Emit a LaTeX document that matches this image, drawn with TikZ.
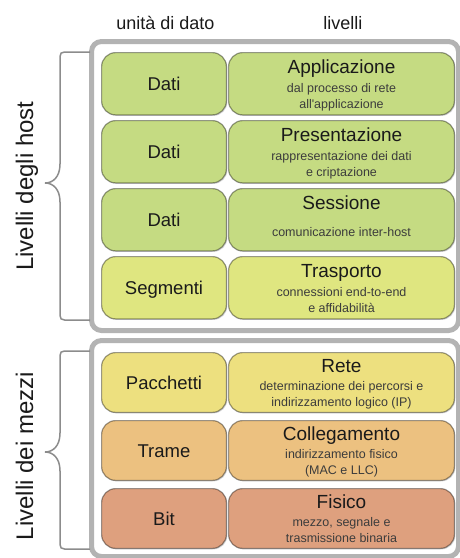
\documentclass[tikz,border=0pt]{standalone}
\usepackage{fontspec}
\setmainfont{Liberation Sans}
\usetikzlibrary{shadows}

\definecolor{framegray}{HTML}{B3B3B3}
\definecolor{bracegray}{HTML}{8C8C8C}
\definecolor{txt}{HTML}{1A1A1A}
\definecolor{cgreen}{HTML}{C5DB82}
\definecolor{cyelgreen}{HTML}{DFE680}
\definecolor{cyellow}{HTML}{EDE07F}
\definecolor{corange}{HTML}{ECC180}
\definecolor{csalmon}{HTML}{DEA07E}

\tikzset{
  groupframe/.style={draw=framegray, line width=5pt, rounded corners=10pt},
  bracket/.style={draw=bracegray, line width=1.5pt},
  layerbox/.style={draw=black, draw opacity=0.38, line width=1.2pt,
    rounded corners=14pt, inner sep=0pt,
    drop shadow={shadow xshift=1pt, shadow yshift=-1pt, opacity=0.3}},
  headtext/.style={font=\fontsize{18}{20}\selectfont, text=txt, inner sep=0pt},
  unittext/.style={font=\fontsize{18.5}{20}\selectfont, text=txt, inner sep=0pt},
  titletext/.style={font=\fontsize{19}{21}\selectfont, text=txt, inner sep=0pt},
  subtext/.style={font=\fontsize{12.5}{15.5}\selectfont, text=txt!85, inner sep=0pt, align=center},
  sidetext/.style={font=\fontsize{24}{26}\selectfont, text=txt, inner sep=0pt, rotate=90, anchor=base},
}

% #1 name, #2 centre y, #3 box height, #4 fill, #5 unit, #6 layer,
% #7 description, #8 offset of description top, #9 offset of title baseline
\newcommand\layerrow[9]{%
  \node[layerbox, fill=#4, minimum width=124.8pt, minimum height=#3pt] (#1u) at (164,#2) {};
  \node[unittext, anchor=base] (#1ut) at ([yshift=-6.5pt]#1u.center) {#5};
  \node[layerbox, fill=#4, minimum width=225.8pt, minimum height=#3pt] (#1l) at (341.5,#2) {};
  \node[titletext, anchor=base] (#1t) at ([yshift=-#9pt]#1l.north) {#6};
  \node[subtext, anchor=north] (#1s) at ([yshift=-#8pt]#1l.north) {#7};
}

\begin{document}
\begin{tikzpicture}[x=1pt, y=-1pt]
\useasboundingbox (0,0) rectangle (460,558);

% grey group frames
\begin{scope}
  \clip (0,0) rectangle (460,558);
  \draw[groupframe] (91.5,41.5) rectangle (458.5,330.5);
  \draw[groupframe] (91.5,340.5) rectangle (458.5,556.5);
\end{scope}

% column headings
\node[headtext, anchor=base] (hunit) at (165.5,29) {unità di dato};
\node[headtext, anchor=base] (hlayer) at (343,29) {livelli};

% host layers
\layerrow{app}{83.75}{62.3}{cgreen}{Dati}{Applicazione}{dal processo di rete\\all\textquotesingle applicazione}{31.3}{21.4}
\layerrow{pres}{151.75}{62.3}{cgreen}{Dati}{Presentazione}{rappresentazione dei dati\\e criptazione}{31.3}{21.4}
\layerrow{sess}{219.75}{62.3}{cgreen}{Dati}{Sessione}{comunicazione inter-host}{38.8}{21.4}
\layerrow{tras}{287.75}{62.3}{cyelgreen}{Segmenti}{Trasporto}{connessioni end-to-end\\e affidabilità}{31.3}{21.4}

% media layers
\layerrow{rete}{382.5}{59.8}{cyellow}{Pacchetti}{Rete}{determinazione dei percorsi e\\indirizzamento logico (IP)}{29.3}{20.4}
\layerrow{coll}{450.5}{59.8}{corange}{Trame}{Collegamento}{indirizzamento fisico\\(MAC e LLC)}{29.3}{20.4}
\layerrow{fis}{518.5}{59.8}{csalmon}{Bit}{Fisico}{mezzo, segnale e\\trasmissione binaria}{29.3}{20.4}

% braces
\draw[bracket] (90,52) -- (64.5,52) .. controls (61.5,52) and (60,53.5) .. (60,56.5)
  -- (60,164) .. controls (60,177) and (53,183) .. (45,183)
  .. controls (53,183) and (60,189) .. (60,202)
  -- (60,315.5) .. controls (60,318.5) and (61.5,320) .. (64.5,320) -- (90,320);
\draw[bracket] (90,351) -- (64.5,351) .. controls (61.5,351) and (60,352.5) .. (60,355.5)
  -- (60,433) .. controls (60,446) and (53,452) .. (45,452)
  .. controls (53,452) and (60,458) .. (60,471)
  -- (60,544.5) .. controls (60,547.5) and (61.5,549) .. (64.5,549) -- (90,549);

% group labels
\node[sidetext] (hostlbl) at (33,186) {Livelli degli host};
\node[sidetext] (medialbl) at (33,456) {Livelli dei mezzi};
\end{tikzpicture}
\end{document}
